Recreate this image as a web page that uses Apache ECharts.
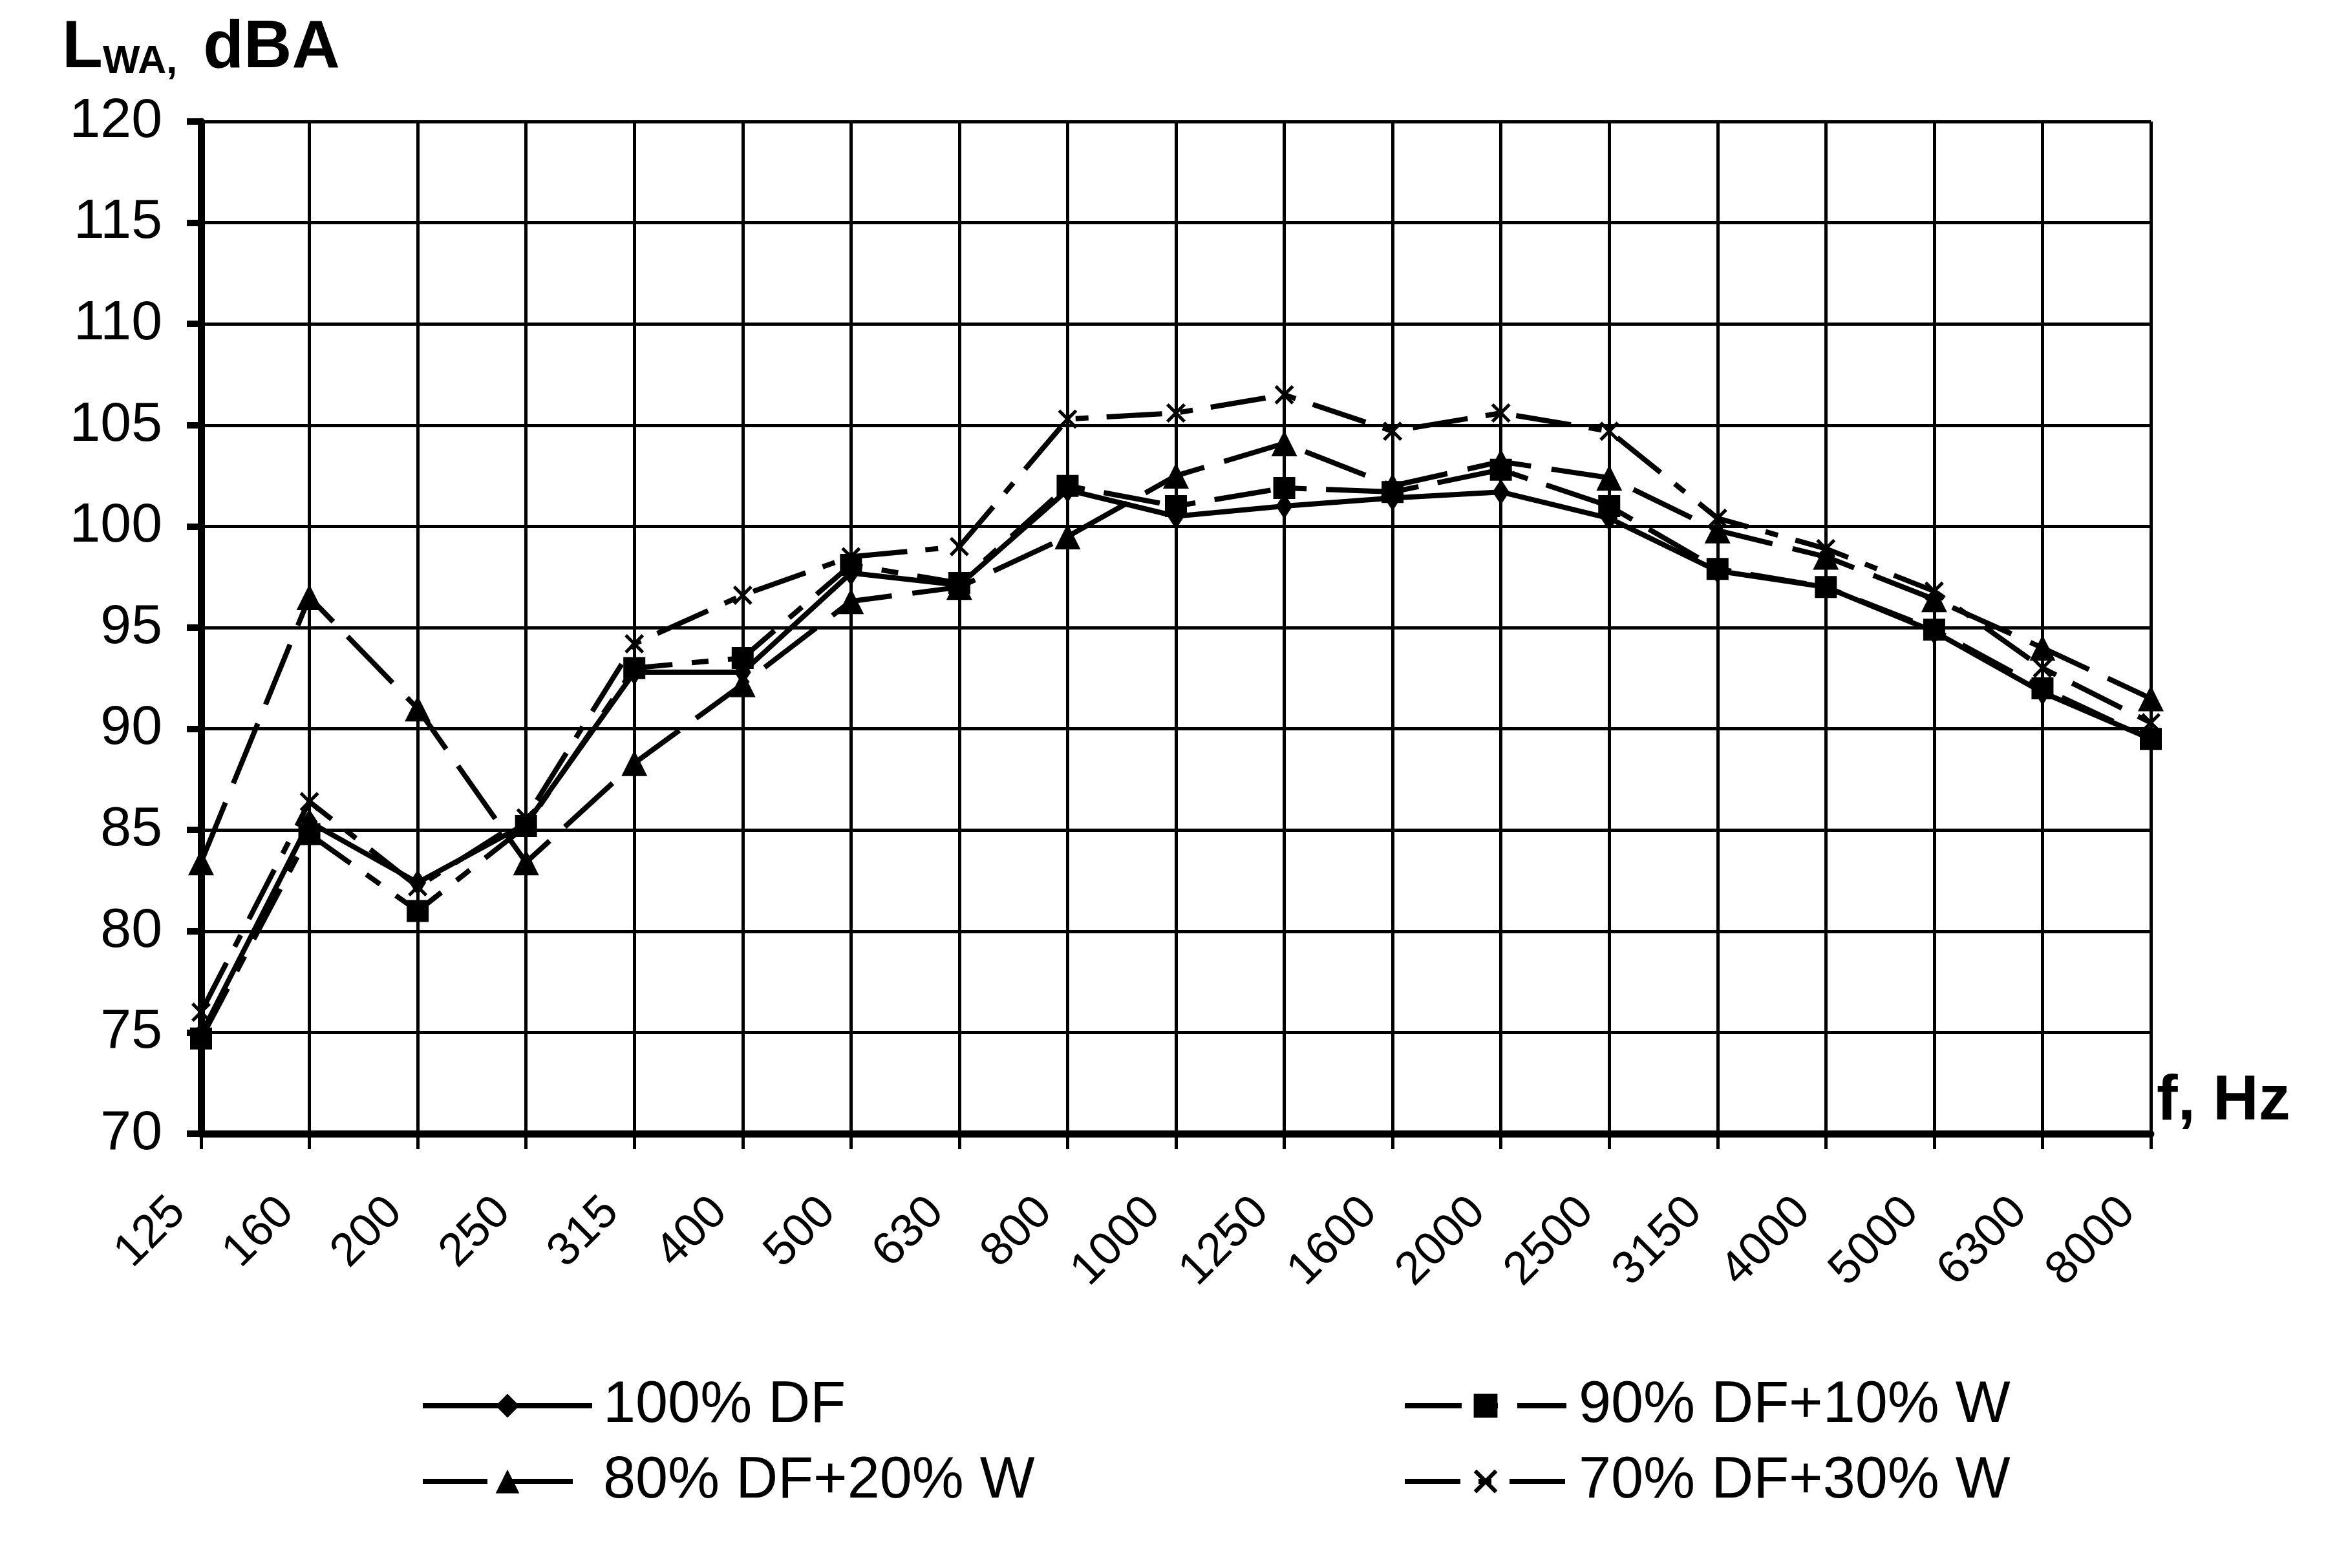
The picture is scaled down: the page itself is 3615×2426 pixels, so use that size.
<!DOCTYPE html>
<html>
<head>
<meta charset="utf-8">
<script src="https://cdn.jsdelivr.net/npm/echarts@6/dist/echarts.min.js"></script>
<style>
  html, body { margin: 0; padding: 0; background: #fff; }
  #chart { width: 3615px; height: 2426px; }
</style>
</head>
<body>
<div id="chart"></div>
<script>
// ---- data ----
const categories = ['125', '160', '200', '250', '315', '400', '500', '630', '800', '1000',
                    '1250', '1600', '2000', '2500', '3150', '4000', '5000', '6300', '8000'];
const seriesNames = ['100% DF', '90% DF+10% W', '80% DF+20% W', '70% DF+30% W'];
const df100    = [74.9, 85.4, 82.4, 85.3, 92.8, 92.8, 97.7, 97.1, 101.8, 100.5, 101.0, 101.4, 101.7, 100.4, 97.8, 97.0, 94.8, 91.8, 89.5];
const df90w10  = [74.7, 84.8, 81.0, 85.2, 93.0, 93.5, 98.1, 97.2, 102.0, 101.0, 101.9, 101.7, 102.8, 101.0, 97.9, 97.0, 94.9, 92.0, 89.5];
const df80w20  = [83.4, 96.5, 91.0, 83.4, 88.3, 92.2, 96.3, 97.0, 99.5, 102.5, 104.1, 102.0, 103.2, 102.4, 99.8, 98.5, 96.4, 94.0, 91.5];
const df70w30  = [76.0, 86.4, 82.2, 85.6, 94.2, 96.6, 98.5, 99.0, 105.3, 105.6, 106.5, 104.7, 105.6, 104.7, 100.4, 98.9, 96.8, 93.0, 90.3];
const yMin = 70, yMax = 120, yStep = 5;
const yTitle = 'L', ySub = 'WA,', yUnit = 'dBA';
const xTitle = 'f, Hz';

const FONT = 'Liberation Sans, Arial, sans-serif';
const xMark = 'path://M0,1.2 L1.2,0 L5,3.8 L8.8,0 L10,1.2 L6.2,5 L10,8.8 L8.8,10 L5,6.2 L1.2,10 L0,8.8 L3.8,5 Z';

function lineSeries(name, data, symbol, size, dash) {
  return {
    name: name,
    type: 'line',
    data: data,
    symbol: symbol,
    symbolSize: size,
    showSymbol: true,
    showAllSymbol: true,
    lineStyle: { color: '#000', width: 8, type: dash },
    itemStyle: { color: '#000', borderWidth: 0 },
    emphasis: { disabled: true }
  };
}

const chart = echarts.init(document.getElementById('chart'), null, { renderer: 'canvas' });
chart.setOption({
  animation: false,
  backgroundColor: '#fff',
  title: {
    text: '{a|' + yTitle + '}{b|' + ySub + '}{c|' + yUnit + '}',
    left: 96,
    top: 24,
    padding: 0,
    textStyle: {
      rich: {
        a: { fontSize: 103, fontWeight: 'bold', fontFamily: FONT, color: '#000', lineHeight: 103 },
        b: { fontSize: 61, fontWeight: 'bold', fontFamily: FONT, color: '#000', lineHeight: 51, verticalAlign: 'bottom' },
        c: { fontSize: 103, fontWeight: 'bold', fontFamily: FONT, color: '#000', lineHeight: 103, padding: [0, 0, 0, 40] }
      }
    }
  },
  grid: { left: 311, right: 288, top: 188, bottom: 672, containLabel: false },
  legend: [
    {
      left: 650, top: 2130, orient: 'vertical', padding: 0,
      itemWidth: 262, itemHeight: 46, itemGap: 27,
      selectedMode: false,
      data: [seriesNames[0], seriesNames[2]],
      textStyle: { fontSize: 90, fontFamily: FONT, color: '#000', lineHeight: 90, padding: [0, 0, 0, 12] },
      lineStyle: { width: 8 }
    },
    {
      left: 2169, top: 2130, orient: 'vertical', padding: 0,
      itemWidth: 250, itemHeight: 46, itemGap: 27,
      selectedMode: false,
      data: [seriesNames[1], seriesNames[3]],
      textStyle: { fontSize: 90, fontFamily: FONT, color: '#000', lineHeight: 90, padding: [0, 0, 0, 14] },
      lineStyle: { width: 8 }
    }
  ],
  xAxis: {
    type: 'category',
    data: categories,
    boundaryGap: false,
    name: xTitle,
    nameLocation: 'end',
    nameGap: 9,
    nameTextStyle: { fontSize: 98, fontWeight: 'bold', fontFamily: FONT, color: '#000', align: 'left', verticalAlign: 'bottom' },
    axisLine: { onZero: false, lineStyle: { color: '#000', width: 11 } },
    axisTick: { show: true, interval: 0, length: 24, lineStyle: { color: '#000', width: 5 } },
    axisLabel: { interval: 0, rotate: 45, fontSize: 72, fontFamily: FONT, color: '#000', margin: 75, padding: [0, 50, 0, 0] },
    splitLine: { show: true, interval: 0, lineStyle: { color: '#000', width: 5 } }
  },
  yAxis: {
    type: 'value',
    min: yMin, max: yMax, interval: yStep,
    axisLine: { show: true, lineStyle: { color: '#000', width: 11 } },
    axisTick: { show: true, length: 22, lineStyle: { color: '#000', width: 10 } },
    axisLabel: { fontSize: 86, fontFamily: FONT, color: '#000', margin: 60 },
    splitLine: { show: true, lineStyle: { color: '#000', width: 5 } }
  },
  series: [
    lineSeries(seriesNames[0], df100, 'diamond', [26, 40], 'solid'),
    lineSeries(seriesNames[1], df90w10, 'rect', [34, 34], [88, 30, 26, 30]),
    lineSeries(seriesNames[2], df80w20, 'triangle', [40, 40], [100, 32]),
    lineSeries(seriesNames[3], df70w30, xMark, [30, 30], [86, 28, 20, 28])
  ]
});
</script>
</body>
</html>
